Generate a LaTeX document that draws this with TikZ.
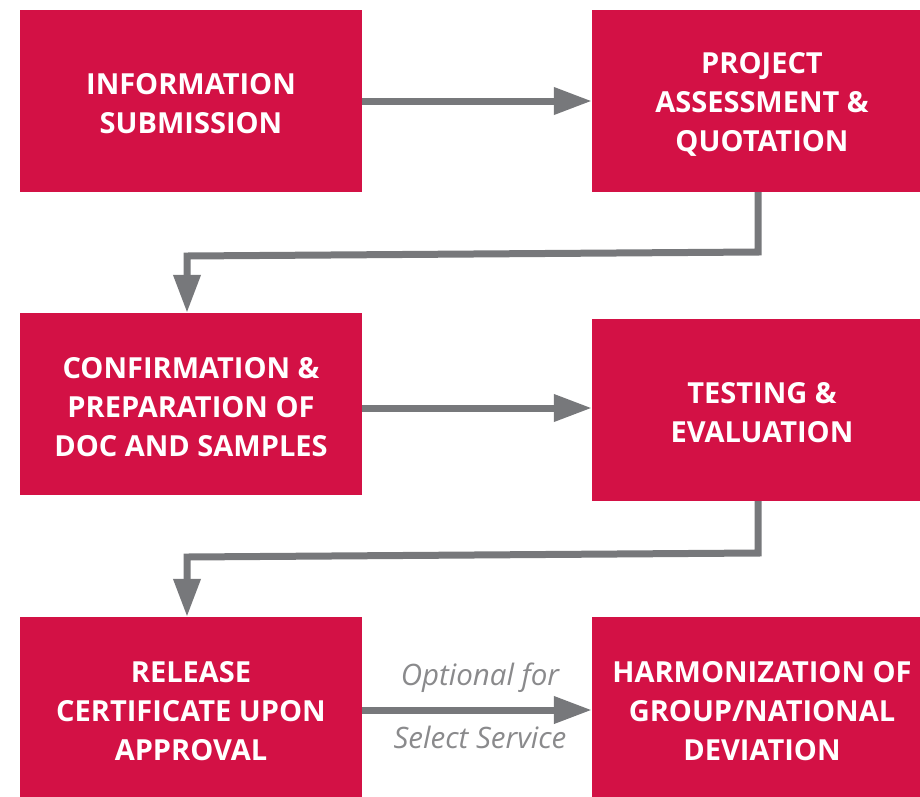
\documentclass[tikz,border=0pt]{standalone}
\usepackage{fontspec}
\setmainfont{Open Sans}
\usetikzlibrary{arrows.meta}
\definecolor{boxred}{HTML}{D31145}
\definecolor{arrgray}{HTML}{77787B}
\definecolor{txtgray}{HTML}{8A8A8C}
\tikzset{
  box/.style={fill=boxred, draw=none, inner sep=0pt, minimum height=182pt},
  lbox/.style={box, minimum width=342pt},
  rbox/.style={box, minimum width=340pt},
  btxt/.style={text=white, align=center, yshift=-3pt,
    font=\fontsize{29}{39}\selectfont\bfseries, inner sep=0pt},
  flow/.style={draw=arrgray, line width=7pt, line join=miter,
    -{Triangle[length=38pt, width=26pt]}},
  lbl/.style={text=txtgray, font=\fontsize{29.5}{30}\selectfont\itshape, inner sep=0pt}
}
\begin{document}
\begin{tikzpicture}[x=1pt, y=-1pt]
\useasboundingbox (0,0) rectangle (920,796);
\node[lbox, label={[btxt]center:INFORMATION\\SUBMISSION}] (b1) at (191,101) {};
\node[rbox, label={[btxt]center:PROJECT\\ASSESSMENT \&\\QUOTATION}] (b2) at (762,101) {};
\node[lbox, label={[btxt]center:CONFIRMATION \&\\PREPARATION OF\\DOC AND SAMPLES}] (b3) at (191,404) {};
\node[rbox, label={[btxt]center:TESTING \&\\EVALUATION}] (b4) at (762,410) {};
\node[lbox, label={[btxt]center:RELEASE\\CERTIFICATE UPON\\APPROVAL}] (b5) at (191,708) {};
\node[rbox, label={[btxt]center:HARMONIZATION OF\\GROUP/NATIONAL\\DEVIATION}] (b6) at (762,708) {};
\coordinate (c1) at (758,252);
\coordinate (c2) at (187,256);
\coordinate (c3) at (758,553);
\coordinate (c4) at (187,557);
\coordinate (m2) at (0,408);
\coordinate (m3) at (0,710);
\draw[flow] (b1.east) -- (b2.west);
\draw[flow] (b2.south -| c1) -- (c1) -- (c2) -- (b3.north -| c2);
\draw[flow] (b3.east |- m2) -- (b4.west |- m2);
\draw[flow] (b4.south -| c3) -- (c3) -- (c4) -- (b5.north -| c4);
\draw[flow] (b5.east |- m3) -- (b6.west |- m3);
\node[lbl] (l1) at (480,678) {Optional for};
\node[lbl] (l2) at (480,737) {Select Service};
\end{tikzpicture}
\end{document}
